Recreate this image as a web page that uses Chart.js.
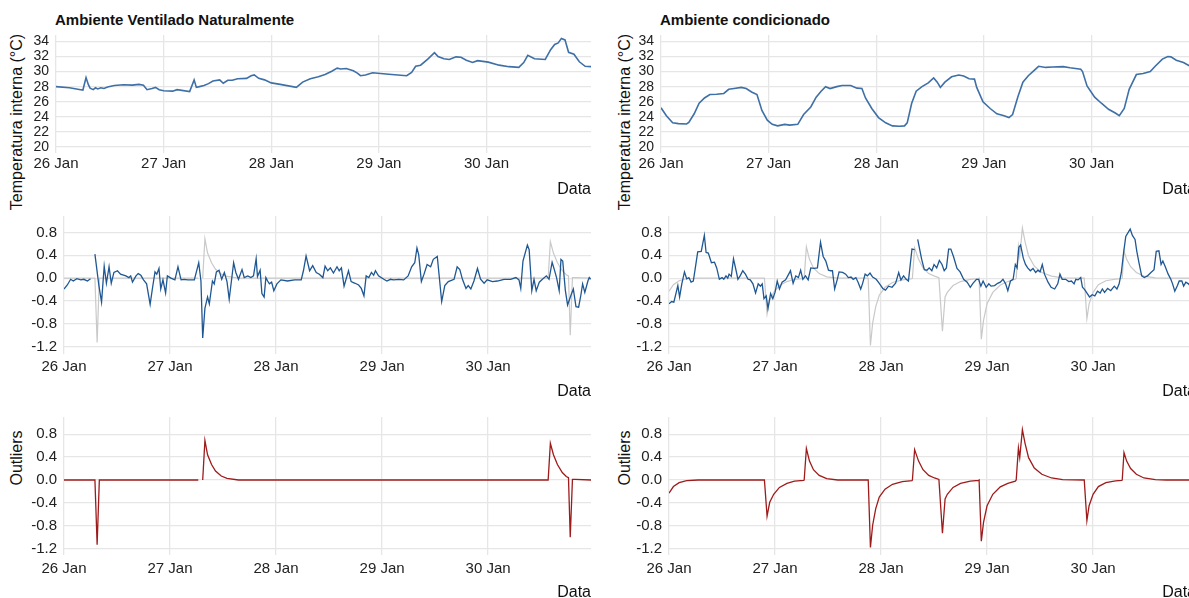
<!DOCTYPE html>
<html>
<head>
<meta charset="utf-8">
<script src="https://cdn.jsdelivr.net/npm/chart.js@4.4.1/dist/chart.umd.min.js"></script>
<style>
  html, body { margin: 0; padding: 0; background: #fff; width: 1189px; height: 598px; overflow: hidden; position: relative; }
  canvas { position: absolute; }
  .ptitle { position: absolute; font: bold 15px "Liberation Sans", Arial, sans-serif; color: #111; line-height: 18px; white-space: nowrap; }
  .ylab { position: absolute; font: 16px "Liberation Sans", Arial, sans-serif; color: #111; white-space: nowrap; transform: translate(-50%, -50%) rotate(-90deg); }
</style>
</head>
<body>
<div class="ptitle" style="left:55px;top:11px">Ambiente Ventilado Naturalmente</div>
<div class="ptitle" style="left:660px;top:11px">Ambiente condicionado</div>
<div class="ylab" style="left:17px;top:122px">Temperatura interna (°C)</div>
<div class="ylab" style="left:17px;top:458px">Outliers</div>
<div class="ylab" style="left:625px;top:122px">Temperatura interna (°C)</div>
<div class="ylab" style="left:625px;top:458px">Outliers</div>

<canvas id="tempL" width="600" height="210" style="left:0;top:0"></canvas>
<canvas id="residL" width="600" height="210" style="left:0;top:200px"></canvas>
<canvas id="outL" width="600" height="210" style="left:0;top:400px"></canvas>
<canvas id="tempR" width="600" height="210" style="left:605px;top:0"></canvas>
<canvas id="residR" width="600" height="210" style="left:605px;top:200px"></canvas>
<canvas id="outR" width="600" height="210" style="left:605px;top:400px"></canvas>

<script>
// eixo x em horas desde 26 Jan 00:00
const dayHours = [0, 24, 48, 72, 96];
const dayLabels = ["26 Jan", "27 Jan", "28 Jan", "29 Jan", "30 Jan"];
const tempTicks = [20, 22, 24, 26, 28, 30, 32, 34];
const residTicks = [-1.2, -0.8, -0.4, 0, 0.4, 0.8];

// [hora, valor]
const tempVent = [[0,28.0],[3,27.85],[5.5,27.6],[6,27.55],[6.7,29.2],[7.2,28.3],[7.6,27.8],[8.3,27.6],[8.8,27.85],[9.3,27.7],
  [10,27.85],[10.7,27.75],[11.5,27.95],[13,28.15],[15,28.25],[17,28.2],[18.5,28.3],[19.5,28.2],[20.3,27.6],[21.4,27.75],
  [22.2,27.9],[23,27.6],[24,27.45],[26,27.4],[27,27.6],[29.8,27.35],[30.8,28.9],[31.3,27.9],[32,28.0],[33,28.15],
  [34,28.4],[35,28.75],[36.5,28.9],[37.3,28.45],[38.3,28.85],[39.3,28.85],[40.5,29.05],[42.5,29.1],[43.5,29.45],[44.2,29.55],
  [45.2,29.1],[46.5,28.9],[48,28.5],[50,28.3],[53.6,27.9],[55,28.6],[56.7,29.05],[58.5,29.3],[60,29.6],[61.5,30.05],
  [62.7,30.45],[63.5,30.35],[64.7,30.4],[66.3,30.1],[67.2,29.8],[67.9,29.45],[69,29.55],[70.6,29.85],[74.2,29.65],[78.2,29.45],
  [79.3,29.9],[80.2,30.7],[81.3,30.85],[82.9,31.65],[84.4,32.5],[85.2,32.0],[86.5,31.7],[87.7,31.6],[89.2,31.95],[90.3,31.9],
  [91.5,31.5],[92.9,31.2],[94,31.45],[96.4,31.25],[98.8,30.85],[101,30.65],[103.2,30.55],[104.3,31.2],[105.2,32.15],[106.7,31.7],
  [109.1,31.6],[110.3,32.9],[111.2,33.6],[112,33.8],[112.7,34.4],[113.5,34.2],[114.3,32.55],[115.5,32.3],[116.7,31.3],[118,30.7],[119.3,30.65]];

const tempCond = [[0,25.2],[1.2,24.15],[2.6,23.2],[3.9,23.1],[5.7,23.05],[6.2,23.25],[7.4,24.4],[8.5,25.8],[9.7,26.5],[10.9,26.95],
  [12.4,27.0],[14,27.1],[15.1,27.65],[16.3,27.75],[17.9,27.9],[19,27.75],[20.2,27.3],[21.4,26.95],[22.5,24.85],[23.7,23.55],
  [24.8,23.0],[26,22.8],[27.6,23.0],[28.7,22.9],[30.5,23.0],[31.8,24.3],[33.4,25.3],[34.6,26.6],[35.7,27.4],[36.7,28.0],
  [37.7,27.75],[39.2,28.0],[40.4,28.15],[42.3,28.15],[43.7,27.8],[44.8,27.75],[45.6,26.5],[47,25.1],[48.5,23.9],[50.1,23.2],
  [51.6,22.8],[53.2,22.75],[54.3,22.8],[54.9,23.2],[55.9,25.8],[56.9,27.4],[58.2,28.0],[59.6,28.5],[60.8,29.15],[61.6,28.6],
  [62.3,27.9],[63.3,28.6],[64.8,29.3],[66.4,29.55],[67.5,29.4],[68.7,29.05],[69.9,29.0],[70.4,27.9],[71.8,26.0],[73.4,25.1],
  [74.9,24.4],[76.5,24.15],[77.6,23.9],[78.4,24.3],[79.6,26.7],[80.7,28.6],[81.9,29.45],[83.1,30.1],[84.2,30.7],[85.8,30.55],
  [87.3,30.6],[89.7,30.65],[91.2,30.5],[93.6,30.3],[94,30.0],[95,28.1],[96.7,26.6],[98.2,25.8],[99.8,25.0],[101.3,24.5],
  [102.2,24.15],[103.3,25.1],[104.4,27.65],[106,29.6],[107.5,29.75],[109.1,30.0],[110.2,30.7],[111.8,31.65],[113,32.0],[113.7,31.95],
  [114.9,31.5],[116.5,31.2],[118,30.7],[119.3,30.4]];

const residVent = [[0,-0.19],[0.75,-0.12],[1.5,-0.02],[2.1,-0.05],[2.9,-0.01],[3.8,-0.03],[4.5,-0.02],[5.3,-0.05],[6.0,-0.01],[6.5,null],
  [7.0,0.42],[7.9,-0.13],[8.5,-0.42],[9.1,0.21],[9.6,-0.09],[10.2,0.2],[10.7,-0.09],[11.3,0.1],[12.1,0.13],[12.8,0.07],
  [14,0.04],[14.7,0.01],[15.1,0.04],[15.5,-0.07],[16.3,0.04],[16.8,0.08],[17.4,0.05],[18,-0.03],[18.7,-0.1],[19.5,-0.46],
  [20,-0.19],[20.6,0.11],[21,0.07],[21.5,0.17],[21.9,-0.19],[22.4,-0.03],[23,-0.26],[23.4,0.04],[24.2,0.0],[25.1,-0.03],
  [25.8,0.2],[26.5,-0.03],[27.2,-0.02],[28,-0.03],[29.5,-0.03],[30.5,0.27],[31,-0.05],[31.4,-1.05],[31.9,-0.53],[32.5,-0.33],
  [32.9,-0.45],[33.6,-0.05],[34,-0.1],[34.5,0.11],[35.1,0.14],[35.7,-0.02],[36.3,0.1],[36.9,-0.06],[37.4,-0.37],[38.4,0.27],
  [38.9,0.1],[39.5,-0.02],[40.3,0.15],[40.8,0.01],[41.6,0.04],[42.3,0.01],[42.9,0.04],[43.5,0.34],[43.8,0.03],[44.4,0.14],
  [44.8,-0.27],[45.3,-0.33],[45.7,0.01],[46.1,-0.05],[46.5,-0.1],[47,-0.07],[47.5,-0.22],[48.2,-0.1],[49.1,-0.03],[50.6,-0.05],
  [52.2,-0.03],[53.7,-0.03],[54.2,0.13],[54.8,0.39],[55.6,0.13],[56.3,0.22],[57.1,0.1],[57.8,0.07],[58.6,0.01],[59.1,0.21],
  [59.7,0.13],[60.3,0.18],[61,0.09],[61.8,0.2],[62.3,0.13],[62.8,0.18],[63.4,-0.14],[64.4,0.13],[65,-0.06],[65.9,-0.09],
  [66.7,-0.12],[67.3,-0.18],[67.9,-0.31],[68.4,0.04],[69,0.01],[69.6,0.1],[70.1,0.05],[70.5,0.13],[71.2,0.04],[72.4,-0.02],
  [73.1,-0.05],[73.9,-0.02],[74.6,-0.03],[75.8,-0.02],[76.9,-0.03],[77.9,0.04],[78.7,0.2],[79.4,0.27],[79.9,0.53],[80.3,0.41],
  [80.9,-0.06],[81.5,0.07],[82.2,0.24],[83,0.2],[83.6,0.33],[84.5,0.38],[85.5,-0.41],[86.2,-0.13],[87,-0.06],[88.3,-0.02],
  [89,0.2],[89.6,0.15],[90.2,-0.02],[91,-0.18],[91.5,-0.13],[92.1,-0.19],[92.8,-0.05],[93.6,0.17],[94.3,-0.02],[95.1,-0.09],
  [95.8,-0.03],[97,-0.06],[98.1,-0.05],[99.6,-0.02],[101.1,-0.02],[102.3,0.01],[103,-0.03],[103.4,-0.18],[103.9,0.3],[104.9,0.58],
  [105.3,0.5],[105.9,-0.22],[106.4,-0.02],[106.9,-0.22],[107.6,-0.07],[108.3,-0.02],[109.2,0.04],[109.8,-0.02],[110.5,0.28],[111,0.15],
  [111.5,0.01],[112.1,-0.22],[112.5,0.33],[112.9,0.3],[113.5,-0.22],[114,-0.47],[114.8,-0.29],[115.3,-0.19],[115.9,-0.5],[116.5,-0.51],
  [117,-0.3],[117.4,-0.1],[117.9,-0.25],[118.6,-0.05],[118.9,0.01],[119.2,-0.02]];

const residCond = [[0,-0.45],[0.6,-0.41],[1.1,-0.42],[2,-0.13],[2.4,-0.33],[2.9,-0.1],[3.5,0.11],[4,-0.01],[4.5,0.01],[5,-0.07],
  [5.5,-0.05],[5.9,0.15],[6.5,0.46],[7.3,0.47],[8,0.75],[8.4,0.45],[8.9,0.44],[9.6,0.27],[10.3,0.28],[10.8,0.18],
  [11.4,-0.02],[12,0.01],[12.4,-0.02],[12.9,0.04],[13.3,0.0],[13.6,0.07],[14.1,0.03],[14.6,0.34],[15.2,0.13],[15.6,-0.02],
  [16.1,0.04],[16.7,0.13],[17.3,0.07],[17.9,-0.02],[18.4,-0.03],[19,-0.1],[19.6,-0.26],[20.2,-0.1],[20.7,-0.14],[21.1,-0.1],
  [21.5,-0.36],[22,-0.31],[22.4,-0.53],[23,-0.27],[23.5,-0.36],[24,-0.25],[24.5,-0.05],[25,-0.19],[25.6,-0.07],[26.4,-0.03],
  [27.1,0.07],[27.5,0.13],[28.1,-0.09],[28.7,0.04],[29.3,0.01],[29.8,0.14],[30.3,-0.02],[30.9,0.04],[31.5,-0.03],[32.1,0.18],
  [32.8,0.17],[33.6,0.18],[34.3,0.63],[34.9,0.38],[35.5,0.3],[36.1,0.14],[36.6,0.13],[37,0.13],[37.5,-0.19],[38.1,-0.02],
  [38.5,0.11],[39.3,0.1],[40,0.07],[40.6,0.01],[41.2,0.02],[41.7,-0.02],[42.3,0.01],[42.8,-0.07],[43.4,-0.19],[43.8,-0.1],
  [44.4,0.07],[44.9,0.04],[45.5,0.09],[46.1,0.02],[46.9,-0.02],[47.6,-0.09],[48.4,-0.18],[49,-0.21],[49.7,-0.14],[50.5,-0.16],
  [51.3,-0.09],[52,0.1],[52.5,-0.03],[53.1,0.04],[53.7,-0.02],[54.2,-0.05],[55,0.51],[55.6,0.5],[55.9,null],[56.3,0.68],
  [57.2,0.33],[57.8,0.15],[58.4,0.14],[58.9,0.18],[59.5,0.13],[60,0.24],[60.6,0.18],[61.2,0.31],[61.8,0.24],[62.3,0.13],
  [62.8,0.18],[63.3,0.51],[63.8,0.51],[64.4,0.38],[65.2,0.17],[65.9,0.11],[66.7,-0.02],[67.5,-0.07],[68.2,-0.16],[68.8,-0.09],
  [69.6,-0.02],[70.1,-0.02],[70.6,-0.14],[71.1,-0.05],[71.8,-0.16],[72.4,-0.1],[72.9,-0.14],[73.7,-0.13],[74.4,-0.09],[75,-0.07],
  [75.6,-0.02],[76.2,-0.1],[76.7,-0.22],[77.3,-0.05],[77.9,-0.02],[78.4,0.24],[78.8,0.18],[79.2,0.54],[79.6,0.58],[80.2,0.35],
  [80.7,0.24],[81.2,0.18],[81.8,0.13],[82.4,0.17],[83,0.1],[83.5,0.14],[84,0.11],[84.5,0.24],[85,0.07],[85.8,-0.07],
  [86.5,-0.16],[87.3,-0.19],[88,-0.1],[88.5,0.07],[89,-0.02],[89.8,-0.02],[90.5,-0.06],[91.1,-0.05],[91.7,-0.1],[92.1,-0.02],
  [92.6,-0.03],[93.2,0.01],[93.6,-0.16],[94.1,-0.2],[94.7,-0.27],[95.2,-0.33],[95.8,-0.29],[96.4,-0.31],[97,-0.23],[97.6,-0.26],
  [98.1,-0.19],[98.6,-0.25],[99.3,-0.18],[100,-0.22],[100.8,-0.14],[101.4,-0.19],[101.9,-0.1],[102.4,0.1],[102.9,0.44],[103.4,0.73],
  [104.4,0.86],[104.9,0.75],[105.5,0.68],[105.9,0.47],[106.4,0.27],[107,0.04],[107.6,0.01],[108.3,0.04],[109.1,0.1],[109.8,0.15],
  [110.3,0.47],[110.9,0.48],[111.4,0.24],[111.8,0.3],[112.3,0.21],[113,0.07],[113.6,-0.02],[114,-0.1],[114.5,-0.23],[115.1,-0.13],
  [115.5,-0.05],[116.1,-0.05],[116.5,-0.14],[117,-0.07],[117.6,-0.1],[118,-0.14],[118.3,-0.19],[119.3,-0.15]];

const outVent = [[0,0],[7.0,0],[7.5,-1.13],[8.0,0],[30.4,0],[30.9,null],[31.4,0],[31.9,0.69],[32.5,0.44],[33.4,0.27],
  [34.3,0.155],[35.6,0.07],[36.9,0.03],[39.5,0],[109.6,0],[110.1,0.64],[110.8,0.44],[111.7,0.27],[112.8,0.13],[113.7,0.06],
  [114.2,0.04],[114.6,-1.0],[115.1,0.01],[115.7,0.01],[119.3,0]];

const outCond = [[0,-0.23],[1.0,-0.115],[2.3,-0.046],[4.0,-0.01],[6.6,0],[21.6,0],[22.2,-0.63],[22.8,-0.39],[23.7,-0.25],[25,-0.13],
  [26.7,-0.06],[28.4,-0.02],[30.5,-0.006],[30.6,0],[31.1,0.55],[31.8,0.33],[32.7,0.18],[34,0.08],[35.7,0.023],[38.2,0],
  [45.1,0],[45.6,-1.18],[46.1,-0.79],[46.8,-0.5],[47.6,-0.3],[48.9,-0.16],[50.6,-0.075],[52.8,-0.03],[55,-0.01],[55.1,0],
  [55.6,0.53],[56.5,0.33],[57.5,0.18],[58.8,0.08],[60.1,0.035],[61.1,0.01],[61.9,-0.93],[62.5,-0.33],[63,-0.25],[64.3,-0.13],
  [66,-0.06],[68.2,-0.02],[70.1,-0.006],[70.2,0],[70.7,-1.07],[71.2,-0.74],[72,-0.45],[73.3,-0.25],[75,-0.12],[76.7,-0.06],
  [78.4,-0.02],[78.6,0],[79.1,0.56],[79.4,0.39],[80,0.88],[80.6,0.64],[81.4,0.39],[82.7,0.21],[84.4,0.1],[86.6,0.035],
  [89.1,0.006],[94,0],[94.6,-0.71],[95.1,-0.45],[96,-0.25],[97.2,-0.115],[98.9,-0.046],[101.1,-0.017],[102.5,-0.006],[102.6,0],
  [103,0.48],[103.6,0.33],[104.5,0.2],[105.8,0.1],[107.5,0.035],[110.1,0.006],[112.6,0],[119.3,0]];

const FONT = '"Liberation Sans", Arial, sans-serif';
Chart.defaults.font.family = FONT;

const gridColor = "#e6e6e6";
const tempColor = "#3e6fa6";
const residColor = "#1f5792";
const grayColor = "#c9c9c9";
const outColor = "#9e1b1b";

// posição de cada linha de painéis
const rows = {
  top: { padTop: 35, xHeight: 57, tickPad: 2, titlePad: 11, yWidth: 56, yFont: 14 },
  mid: { padTop: 15, xHeight: 56, tickPad: 4, titlePad: 9, yWidth: 64, yFont: 15 },
  bot: { padTop: 17, xHeight: 55, tickPad: 5, titlePad: 8, yWidth: 64, yFont: 15 }
};

function lineSet(pairs, color, width) {
  return {
    data: pairs.map(p => ({ x: p[0], y: p[1] })),
    borderColor: color,
    borderWidth: width,
    pointRadius: 0,
    tension: 0,
    spanGaps: false,
    fill: false
  };
}

function makePanel(id, datasets, yMin, yMax, yTicks, yFmt, row) {
  new Chart(document.getElementById(id), {
    type: "line",
    data: { datasets: datasets },
    options: {
      responsive: false,
      animation: false,
      devicePixelRatio: 1,
      layout: { padding: { top: row.padTop, right: 9, bottom: 0, left: 0 } },
      plugins: { legend: { display: false }, tooltip: { enabled: false } },
      scales: {
        x: {
          type: "linear",
          min: 0,
          max: 119.3,
          grid: { color: gridColor, lineWidth: 1.3, drawTicks: false },
          border: { display: false },
          afterBuildTicks: s => { s.ticks = dayHours.map(v => ({ value: v })); },
          afterFit: s => { s.height = row.xHeight; },
          ticks: {
            padding: row.tickPad,
            maxRotation: 0,
            autoSkip: false,
            color: "#222",
            font: { size: 15 },
            callback: v => dayLabels[dayHours.indexOf(v)]
          },
          title: {
            display: true,
            text: "Data",
            align: "end",
            color: "#111",
            font: { size: 16 },
            padding: { top: 0, bottom: row.titlePad }
          }
        },
        y: {
          min: yMin,
          max: yMax,
          grid: { color: gridColor, lineWidth: 1.3, drawTicks: false },
          border: { display: false },
          afterBuildTicks: s => { s.ticks = yTicks.map(v => ({ value: v })); },
          afterFit: s => { s.width = row.yWidth; },
          ticks: { padding: 7, autoSkip: false, color: "#222", font: { size: row.yFont }, callback: yFmt }
        }
      }
    }
  });
}

const fmtTemp = v => String(v);
const fmtResid = v => v.toFixed(1);

makePanel("tempL", [lineSet(tempVent, tempColor, 1.6)], 19.2, 34.85, tempTicks, fmtTemp, rows.top);
makePanel("residL", [lineSet(residVent, residColor, 1.3), lineSet(outVent, grayColor, 1.2)], -1.33, 1.09, residTicks, fmtResid, rows.mid);
makePanel("outL", [lineSet(outVent, outColor, 1.3)], -1.31, 1.1, residTicks, fmtResid, rows.bot);

makePanel("tempR", [lineSet(tempCond, tempColor, 1.6)], 19.2, 34.85, tempTicks, fmtTemp, rows.top);
makePanel("residR", [lineSet(residCond, residColor, 1.3), lineSet(outCond, grayColor, 1.2)], -1.33, 1.09, residTicks, fmtResid, rows.mid);
makePanel("outR", [lineSet(outCond, outColor, 1.3)], -1.31, 1.1, residTicks, fmtResid, rows.bot);
</script>
</body>
</html>
